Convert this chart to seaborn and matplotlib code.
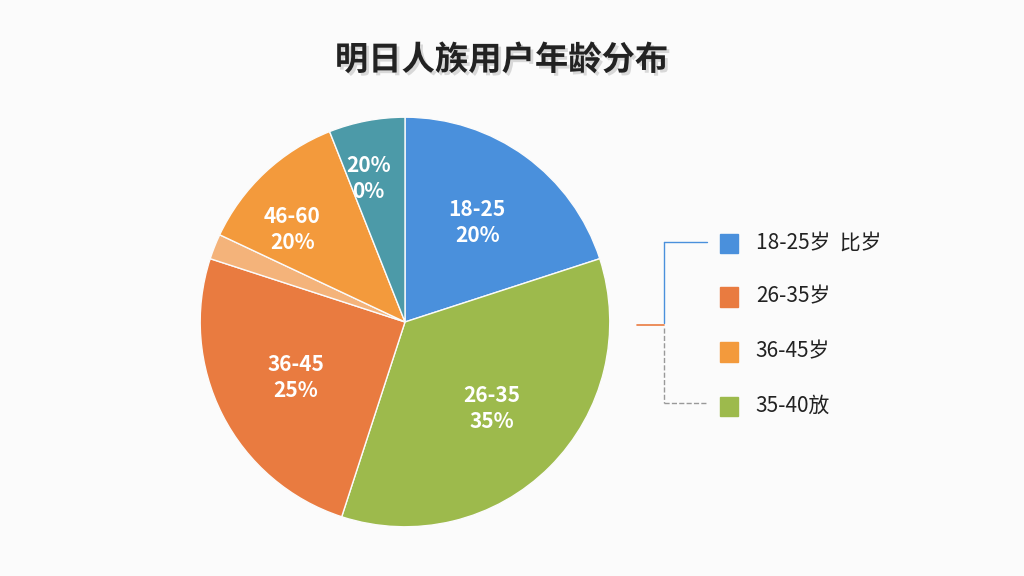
import matplotlib
matplotlib.use('Agg')
import matplotlib.pyplot as plt
import matplotlib.patheffects as pe
import seaborn as sns

# slices, clockwise from 12 o'clock
slice_names = ['18-25', '26-35', '36-45', 'sliver', '46-60', 'teal']
slice_values = [20, 35, 25, 2, 12, 6]
slice_labels = ['18-25\n20%', '26-35\n35%', '36-45\n25%', '', '46-60\n20%', '20%\n0%']
slice_colors = ['#4A90DC', '#9DBA4C', '#E97B40', '#F4B37A', '#F39A3C', '#4C9AA8']

legend_labels = ['18-25岁  比岁', '26-35岁', '36-45岁', '35-40放']
legend_colors = ['#4A90DC', '#E97B40', '#F39A3C', '#9DBA4C']

sns.set_theme(style='white')
plt.rcParams['font.family'] = ['Noto Sans CJK SC', 'DejaVu Sans']

fig = plt.figure(figsize=(10.24, 5.76), dpi=100)
fig.patch.set_facecolor('#FBFBFB')
ax = fig.add_axes([0.1955, 0.085, 0.40, 0.712])
ax.set_facecolor('#FBFBFB')

wedges, texts = ax.pie(slice_values, colors=slice_colors, startangle=90,
                       counterclock=False, labels=slice_labels, labeldistance=0.6,
                       wedgeprops=dict(edgecolor='#FBFBFB', linewidth=1),
                       textprops=dict(color='white', fontsize=15, fontweight='bold',
                                      ha='center', va='center', linespacing=1.3))
texts[5].set_position((-0.18, 0.7))
texts[4].set_position((-0.55, 0.45))
ax.set_xlim(-1, 1)
ax.set_ylim(-1, 1)
ax.axis('off')

fig.text(0.49, 0.895, '明日人族用户年龄分布', ha='center', va='center', fontsize=24,
         fontweight='bold', color='#222222',
         path_effects=[pe.withSimplePatchShadow(offset=(2, -2), shadow_rgbFace='#888888')])

# legend
ys = [0.578, 0.485, 0.39, 0.295]
for lab, col, y in zip(legend_labels, legend_colors, ys):
    fig.patches.append(plt.Rectangle((0.703, y - 0.018), 0.018, 0.034, color=col,
                                     transform=fig.transFigure))
    fig.text(0.738, y, lab, va='center', fontsize=15, color='#222222')

# bracket lines
fig.add_artist(plt.Line2D([0.648, 0.648], [0.58, 0.44], color='#4A90DC', lw=1))
fig.add_artist(plt.Line2D([0.648, 0.69], [0.58, 0.58], color='#4A90DC', lw=1))
fig.add_artist(plt.Line2D([0.622, 0.648], [0.435, 0.435], color='#E97B40', lw=1.2))
fig.add_artist(plt.Line2D([0.648, 0.648], [0.43, 0.30], color='#999999', lw=1, ls='--'))
fig.add_artist(plt.Line2D([0.648, 0.69], [0.30, 0.30], color='#999999', lw=1, ls='--'))

fig.savefig('out.png', dpi=100, facecolor=fig.get_facecolor())
